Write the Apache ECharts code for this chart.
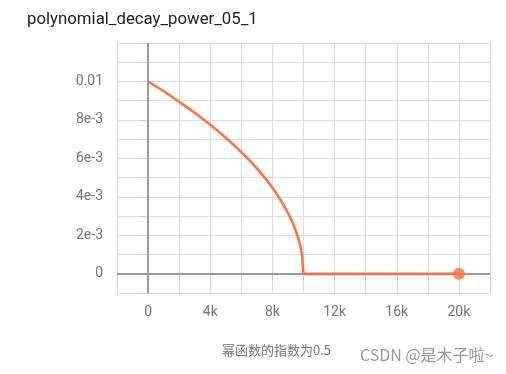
<!DOCTYPE html>
<html><head><meta charset="utf-8">
<script src="https://cdn.jsdelivr.net/npm/echarts@6/dist/echarts.min.js"></script>
<style>html,body{margin:0;padding:0;background:#fff}#c{width:506px;height:374px}</style>
</head><body><div id="c"></div>
<script>
const steps = [0, 500, 1000, 1500, 2000, 2500, 3000, 3500, 4000, 4500, 5000, 5500, 6000, 6500, 7000, 7500, 8000, 8500, 9000, 9300, 9500, 9700, 9800, 9900, 10000, 20000];
const lrValues = [0.01, 0.00975, 0.00949, 0.00922, 0.00894, 0.00866, 0.00837, 0.00806, 0.00775, 0.00742, 0.00707, 0.00671, 0.00632, 0.00592, 0.00548, 0.005, 0.00447, 0.00387, 0.00316, 0.00265, 0.00224, 0.00173, 0.00141, 0.001, 0, 0];
const xTickLabels = {0:'0', 4000:'4k', 8000:'8k', 12000:'12k', 16000:'16k', 20000:'20k'};
const yTickLabels = ['0', '2e-3', '4e-3', '6e-3', '8e-3', '0.01'];

const pts = steps.map((s, i) => [s, lrValues[i]]);
const last = pts[pts.length - 1];
const chart = echarts.init(document.getElementById('c'));
const font = 'Roboto, "Noto Sans", sans-serif';
chart.setOption({
  animation: false,
  title: [
    {text: 'polynomial_decay_power_05_1', left: 22, top: 6,
     textStyle: {fontSize: 16.8, fontWeight: 'normal', color: '#212121', fontFamily: font}},
    {text: '幂函数的指数为0.5', left: 217, top: 339,
     textStyle: {fontSize: 13, fontWeight: 'normal', color: '#777', fontFamily: '"Noto Sans CJK SC", sans-serif'}},
    {text: 'CSDN @是木子啦~', left: 355, top: 342,
     textStyle: {fontSize: 16, fontWeight: 'normal', color: '#999', fontFamily: '"Noto Sans CJK SC", sans-serif'}}
  ],
  grid: {left: 117, right: 16, top: 43, bottom: 81},
  xAxis: {
    type: 'value', min: -2000, max: 22000, interval: 2000,
    axisLine: {show: false},
    axisTick: {show: true, length: 7, lineStyle: {color: '#ccc'}},
    splitLine: {show: true, lineStyle: {color: '#ddd', width: 1}},
    axisLabel: {margin: 12, color: '#777', fontSize: 14, fontFamily: font,
      formatter: v => (xTickLabels[v] !== undefined ? xTickLabels[v] : '')}
  },
  yAxis: {
    type: 'value', min: -0.001, max: 0.012, interval: 0.001,
    axisLine: {show: false},
    axisTick: {show: true, length: 8, lineStyle: {color: '#ccc'}},
    splitLine: {show: true, lineStyle: {color: '#ddd', width: 1}},
    axisLabel: {margin: 14, color: '#777', fontSize: 14, fontFamily: font,
      formatter: v => {
        const k = Math.round(v / 0.002);
        if (Math.abs(v - k * 0.002) < 1e-9 && k >= 0 && k < yTickLabels.length) return yTickLabels[k];
        return '';
      }}
  },
  series: [
    {type: 'line', data: pts, showSymbol: false, symbol: 'none',
     lineStyle: {color: '#ff7043', width: 2.5}, z: 3,
     markLine: {silent: true, symbol: 'none', label: {show: false},
       lineStyle: {color: '#999', type: 'solid', width: 2},
       data: [{xAxis: 0}, {yAxis: 0}], z: 2}},
    {type: 'scatter', data: [last], symbolSize: 12, itemStyle: {color: '#ff7043'}, z: 4}
  ]
});
</script></body></html>
